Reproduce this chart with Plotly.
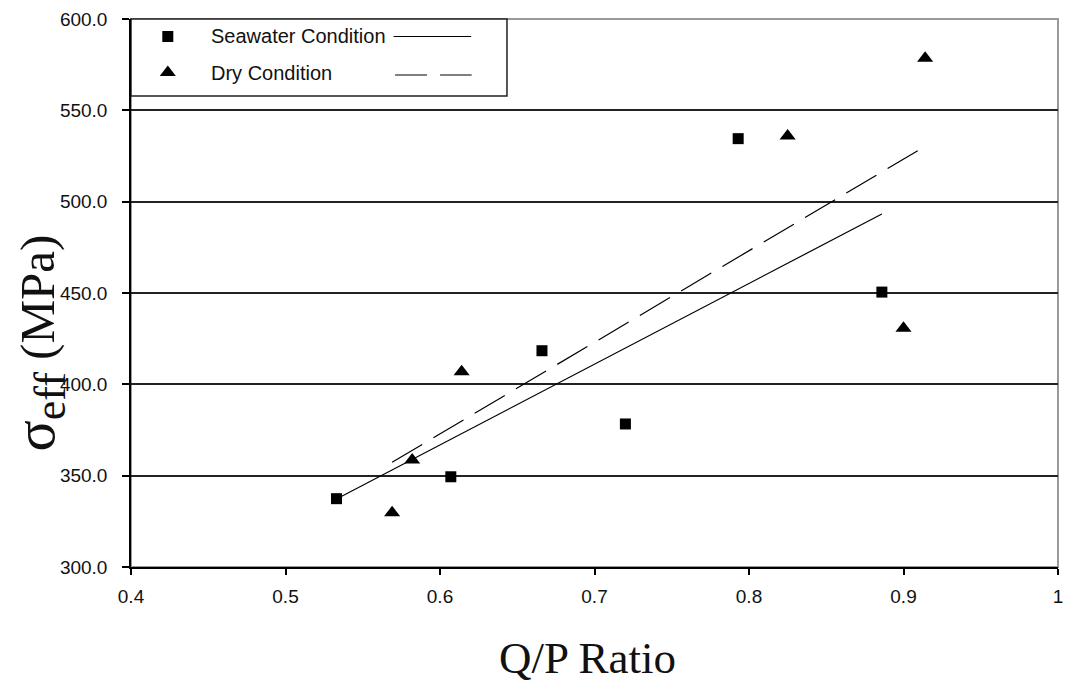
import numpy as np
import plotly.graph_objects as go

# ---- data ----
series_names = ["Seawater Condition", "Dry Condition"]
sea_qp = [0.533, 0.607, 0.666, 0.720, 0.793, 0.886]
sea_sigma = [337.4, 349.4, 418.4, 378.3, 534.5, 450.5]
dry_qp = [0.569, 0.582, 0.614, 0.825, 0.900, 0.914]
dry_sigma = [329.7, 358.6, 406.9, 535.9, 430.7, 578.5]
x_ticks = [0.4, 0.5, 0.6, 0.7, 0.8, 0.9, 1.0]
y_ticks = [300, 350, 400, 450, 500, 550, 600]
x_title = "Q/P Ratio"

# ---- layout geometry (pixels) ----
W, H = 1065, 686
L, R, T, B = 131, 1063, 19, 567


def px(x):
    return (x - L) / (R - L)


def py(y):
    return (B - y) / (B - T)


SANS = "Liberation Sans, Arial, sans-serif"
SERIF = "Liberation Serif, Times New Roman, serif"

fig = go.Figure()

styles = [
    dict(qp=sea_qp, sig=sea_sigma, symbol="square", size=11, dash="solid"),
    dict(qp=dry_qp, sig=dry_sigma, symbol="triangle-up", size=14, dash="35px,13px"),
]

for name, st in zip(series_names, styles):
    slope, icpt = np.polyfit(st["qp"], st["sig"], 1)
    xs = [min(st["qp"]), max(st["qp"])]
    ys = [slope * v + icpt for v in xs]
    fig.add_trace(go.Scatter(x=xs, y=ys, mode="lines", showlegend=False,
                             line=dict(color="black", width=1.2, dash=st["dash"])))
    fig.add_trace(go.Scatter(x=st["qp"], y=st["sig"], mode="markers", name=name,
                             showlegend=False, cliponaxis=False,
                             marker=dict(symbol=st["symbol"], size=st["size"], color="black",
                                         line=dict(width=0))))

# ---- custom legend (Excel style: marker, text, line sample) ----
leg_rows = [36.5, 72.5]
for name, st, yrow in zip(series_names, styles, leg_rows):
    fig.add_trace(go.Scatter(x=[px(168)], y=[py(yrow)], xaxis="x2", yaxis="y2",
                             mode="markers", showlegend=False, cliponaxis=False,
                             marker=dict(symbol=st["symbol"], size=st["size"], color="black",
                                         line=dict(width=0))))
    fig.add_annotation(x=px(209), y=py(yrow), xref="paper", yref="paper",
                       text=name, showarrow=False, xanchor="left", yanchor="middle",
                       font=dict(family=SANS, size=20, color="#111"))

shapes = []
# plot area border (grey)
shapes.append(dict(type="rect", xref="paper", yref="paper", x0=0, x1=1, y0=0, y1=1,
                   line=dict(color="#999", width=2), layer="between"))
# legend box
shapes.append(dict(type="rect", xref="paper", yref="paper", x0=0, x1=px(509),
                   y0=py(96), y1=py(19), fillcolor="white",
                   line=dict(color="#222", width=1.5), layer="between"))
# legend line samples
shapes.append(dict(type="line", xref="paper", yref="paper", x0=px(395), x1=px(473),
                   y0=py(36.5), y1=py(36.5), line=dict(color="black", width=1.2),
                   layer="above"))
shapes.append(dict(type="line", xref="paper", yref="paper", x0=px(396.5), x1=px(473.5),
                   y0=py(75), y1=py(75), line=dict(color="black", width=1.2, dash="32px,13px"),
                   layer="above"))
fig.update_layout(shapes=shapes)

# ---- axis titles ----
fig.add_annotation(x=px(590), y=py(658), xref="paper", yref="paper", text=x_title,
                   showarrow=False, xanchor="center", yanchor="middle",
                   font=dict(family=SERIF, size=45, color="#111"))
fig.add_annotation(x=px(38), y=py(343), xref="paper", yref="paper",
                   text='<span style="font-size:58px">σ</span>'
                        '<sub><span style="font-size:44px">eff</span></sub>'
                        ' (MPa)',
                   showarrow=False, xanchor="center", yanchor="middle", textangle=-90,
                   font=dict(family=SERIF, size=49, color="#111"))

fig.update_layout(
    width=W, height=H,
    margin=dict(l=L, r=W - R, t=T, b=H - B, pad=0),
    paper_bgcolor="white", plot_bgcolor="white",
    showlegend=False,
    xaxis=dict(range=[0.4, 1.0], tickvals=x_ticks, ticktext=[f"{v:g}" for v in x_ticks],
               showline=True, linecolor="black", linewidth=1.5,
               ticks="outside", ticklen=6, tickwidth=1.5, tickcolor="black",
               showgrid=False, zeroline=False, ticklabeloverflow="allow",
               ticklabelstandoff=5,
               tickfont=dict(family=SANS, size=19, color="#111")),
    yaxis=dict(range=[300, 600], tickvals=y_ticks, ticktext=[f"{v:.1f}" for v in y_ticks],
               showline=True, linecolor="black", linewidth=1.5,
               ticks="outside", ticklen=7, tickwidth=1.5, tickcolor="black",
               showgrid=True, gridcolor="#222", gridwidth=2, zeroline=False,
               ticklabeloverflow="allow", ticklabelstandoff=11,
               tickfont=dict(family=SANS, size=19, color="#111")),
    xaxis2=dict(overlaying="x", range=[0, 1], visible=False),
    yaxis2=dict(overlaying="y", range=[0, 1], visible=False),
)

fig.write_html("out.html")
